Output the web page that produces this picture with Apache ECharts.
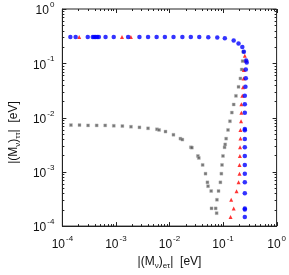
<!DOCTYPE html>
<html><head><meta charset="utf-8">
<script src="https://cdn.jsdelivr.net/npm/echarts@6/dist/echarts.min.js"></script>
<style>html,body{margin:0;padding:0;background:#fff}#c{width:289px;height:275px}</style>
</head><body><div id="c"></div>
<script>
// Blue points (|M|_eτ, |M|_ττ)
const blueX = [1.41e-4,1.77e-4,2.98e-4,3.7e-4,3.92e-4,4.19e-4,4.48e-4,4.81e-4,6.4e-4,9.1e-4,1.69e-3,2.75e-3,3.98e-3,5.75e-3,8.2e-3,1.19e-2,1.74e-2,2.5e-2,3.6e-2,5.3e-2,7.8e-2,
  0.108,0.158,0.1945,0.229,0.245,0.27,0.277,0.266,0.266,0.262,0.255,0.255,0.255,0.255,0.255,0.255,0.255,0.255,0.255,0.255,0.255,0.255,0.255,0.255,0.255];
const blueY = [0.305,0.305,0.305,0.305,0.305,0.305,0.305,0.305,0.305,0.305,0.305,0.305,0.305,0.305,0.305,0.305,0.305,0.305,0.305,0.303,0.298,
  0.289,0.262,0.232,0.2,0.163,0.1127,0.1038,0.0769,0.0532,0.0368,0.0251,0.0176,0.0122,6.16e-3,5.83e-3,4.04e-3,2.83e-3,1.96e-3,1.34e-3,9.25e-4,6.4e-4,4.02e-4,2.12e-4,2.03e-4,1.47e-4];
// Red points
const redX = [2.06e-4,1.30e-3,1.9e-3,
  0.255,0.266,0.245,0.242,0.236,0.229,0.22,0.22,0.217,0.211,0.211,0.208,0.206,0.203,0.203,0.195,0.179,0.142,0.158,0.138];
const redY = [0.305,0.305,0.305,
  0.138,0.113,0.0748,0.0525,0.0363,0.0251,0.0176,0.0122,8.55e-3,5.9e-3,4.1e-3,2.83e-3,1.96e-3,1.34e-3,9.2e-4,6.4e-4,4.4e-4,3.06e-4,2.12e-4,1.47e-4];
// Black points
const blackX = [1.445e-4,2.09e-4,3.02e-4,4.37e-4,6.31e-4,9.12e-4,1.32e-3,1.91e-3,2.75e-3,3.98e-3,5.83e-3,6.41e-3,8.43e-3,1.186e-2,1.6e-2,1.74e-2,2.51e-2,2.62e-2,3.39e-2,3.53e-2,4.16e-2,4.71e-2,5.11e-2,5.25e-2,6.01e-2,7.69e-2,6.09e-2,7.28e-2,7.59e-2,
  8.24e-2,8.93e-2,9.31e-2,9.57e-2,9.97e-2,0.1067,0.1096,0.1143,0.1239,0.1346,0.146,0.158,0.174,0.1945,0.211,0.223,0.232,0.239];
const blackY = [7.26e-3,7.26e-3,7.16e-3,7.16e-3,7.16e-3,7.06e-3,6.97e-3,6.78e-3,6.59e-3,6.33e-3,6.08e-3,5.91e-3,5.52e-3,4.82e-3,4.09e-3,3.93e-3,2.83e-3,2.79e-3,1.96e-3,1.80e-3,1.34e-3,9.25e-4,6.4e-4,5.43e-4,4.43e-4,3.06e-4,2.12e-4,2.12e-4,1.73e-4,
  4.43e-4,6.4e-4,9.25e-4,1.34e-3,1.96e-3,2.83e-3,3.2e-3,4.09e-3,5.91e-3,8.55e-3,1.235e-2,1.74e-2,2.51e-2,3.68e-2,5.25e-2,7.69e-2,0.1096,0.163];
// Axis range (decades)
const axisMin = 1e-4, axisMax = 1;
const majorTicks = [1e-4,1e-3,1e-2,1e-1,1];
const minorTicks = [];
for (let e = -4; e < 0; e++) for (let m = 2; m <= 9; m++) minorTicks.push(m * Math.pow(10, e));

const zip = (a, b) => a.map((v, i) => [v, b[i]]);
const tickData = majorTicks.map(v => [v, 1]).concat(minorTicks.map(v => [v, 0]));

const chart = echarts.init(document.getElementById('c'));
const FONT = 'Liberation Sans';
const rich = {
  b: {fontSize: 12, fontFamily: FONT, color: '#111', lineHeight: 16, verticalAlign: 'bottom'},
  s: {fontSize: 8, fontFamily: FONT, color: '#111', lineHeight: 16, verticalAlign: 'top', padding: [0,0,0,1]}
};
const nameRich = {
  n: {fontSize: 12, fontFamily: FONT, color: '#111', lineHeight: 16},
  d: {fontSize: 8, fontFamily: FONT, color: '#111', lineHeight: 16, verticalAlign: 'bottom', padding:[5,0,0,0]}
};
const fmt = v => '{b|10}{s|' + Math.round(Math.log10(v)) + '}';

function tickRender(isX) {
  return function (params, api) {
    const cs = params.coordSys;
    const v = api.value(0);
    const major = api.value(1) === 1;
    const len = major ? 4 : 2;
    const style = {stroke: '#222', lineWidth: 1};
    if (isX) {
      const px = Math.round(api.coord([v, axisMin])[0]) + 0.5;
      return {type: 'group', children: [
        {type: 'line', shape: {x1: px, y1: cs.y + cs.height, x2: px, y2: cs.y + cs.height - len}, style},
        {type: 'line', shape: {x1: px, y1: cs.y, x2: px, y2: cs.y + len}, style}
      ]};
    } else {
      const py = Math.round(api.coord([axisMin, v])[1]) + 0.5;
      return {type: 'group', children: [
        {type: 'line', shape: {x1: cs.x, y1: py, x2: cs.x + len, y2: py}, style},
        {type: 'line', shape: {x1: cs.x + cs.width, y1: py, x2: cs.x + cs.width - len, y2: py}, style}
      ]};
    }
  };
}

chart.setOption({
  animation: false,
  backgroundColor: '#fff',
  grid: {left: 53, top: 9, width: 225, height: 225, show: true, borderColor: '#222', borderWidth: 1, backgroundColor: 'transparent'},
  xAxis: {
    type: 'log', logBase: 10, min: axisMin, max: axisMax,
    axisLine: {show: true, lineStyle: {color: '#222'}},
    axisTick: {show: false}, splitLine: {show: false},
    axisLabel: {formatter: fmt, rich: rich, margin: 9, showMinLabel: true, showMaxLabel: true},
    name: '{n||(M}{d|ν}{n|)}{d|eτ}{n||  [eV]}',
    nameLocation: 'middle', nameGap: 27,
    nameTextStyle: {rich: nameRich}
  },
  yAxis: {
    type: 'log', logBase: 10, min: axisMin, max: axisMax,
    axisLine: {show: true, lineStyle: {color: '#222'}},
    axisTick: {show: false}, splitLine: {show: false},
    axisLabel: {formatter: fmt, rich: rich, margin: 8, showMinLabel: true, showMaxLabel: true},
    name: '{n||(M}{d|ν}{n|)}{d|ττ}{n||  [eV]}',
    nameLocation: 'middle', nameGap: 40,
    nameTextStyle: {rich: nameRich, padding: [0, 30, 0, 0]}
  },
  series: [
    {type: 'custom', renderItem: tickRender(true), data: tickData, silent: true, z: 1},
    {type: 'custom', renderItem: tickRender(false), data: tickData, silent: true, z: 1},
    {type: 'scatter', data: zip(blackX, blackY), symbol: 'rect', symbolSize: 3,
      itemStyle: {color: '#555', borderColor: '#bbb', borderWidth: 0.5}, z: 3},
    {type: 'scatter', data: zip(redX, redY), symbol: 'triangle', symbolSize: 4,
      itemStyle: {color: '#ff0000'}, z: 4},
    {type: 'scatter', data: zip(blueX, blueY), symbol: 'circle', symbolSize: 4.5,
      itemStyle: {color: '#0000ff'}, z: 5}
  ]
});
</script>
</body></html>
